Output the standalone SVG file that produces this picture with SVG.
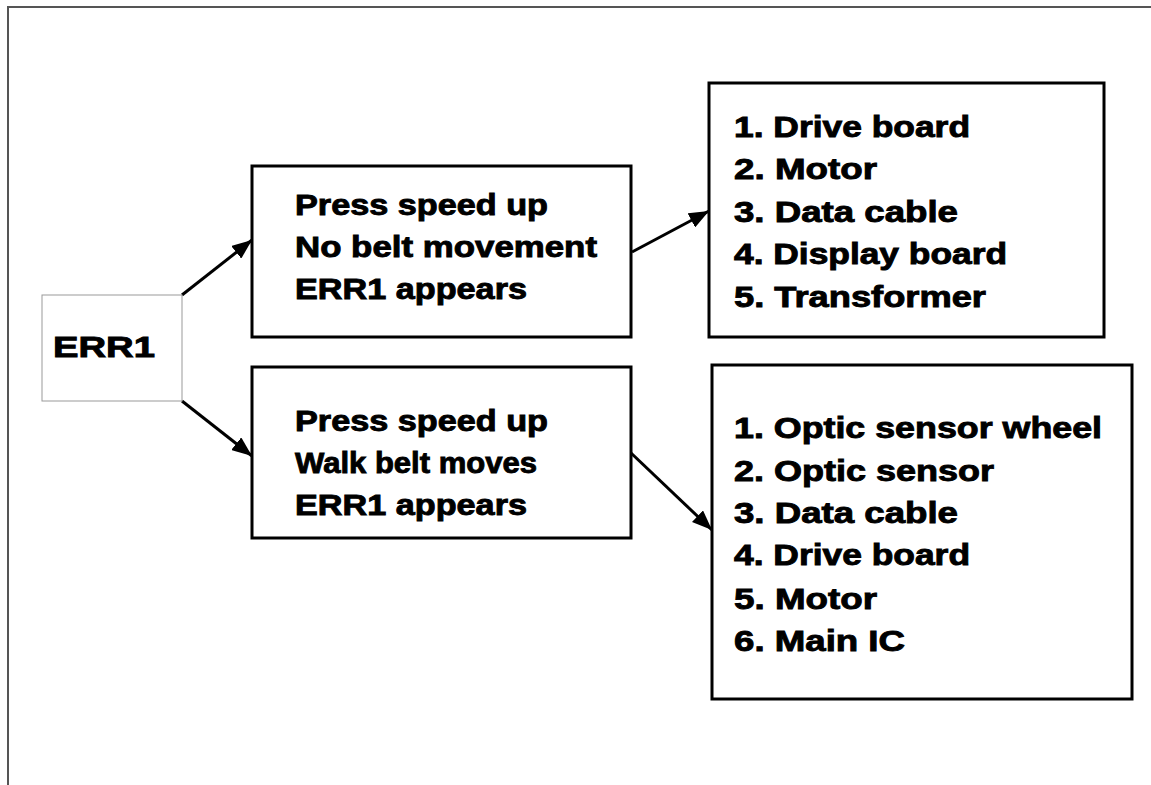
<svg xmlns="http://www.w3.org/2000/svg" width="1151" height="785" viewBox="0 0 1151 785">
  <defs>
    <style>
      .frame { stroke: #555; stroke-width: 2; fill: none; }
      .box { fill: #fff; stroke: #000; stroke-width: 3; }
      .thin { fill: #fff; stroke: #999; stroke-width: 1; }
      .t { font-family: "Liberation Sans", Arial, sans-serif; font-weight: bold; font-size: 29px; fill: #000; stroke: #000; stroke-width: 0.9; }
      .conn { stroke: #000; stroke-width: 3; fill: none; marker-end: url(#arrow); }
    </style>
    <marker id="arrow" viewBox="0 0 20 16" refX="20" refY="8" markerWidth="20" markerHeight="16" markerUnits="userSpaceOnUse" orient="auto">
      <path d="M0,0 L20,8 L0,16 z" fill="#000"/>
    </marker>
  </defs>
  <rect width="1151" height="785" fill="#fff"/>
  <path class="frame" d="M8,785 L8,7 L1151,7"/>

  <g id="connectors">
    <line class="conn" x1="182" y1="295" x2="252" y2="240"/>
    <line class="conn" x1="182" y1="401" x2="252" y2="456"/>
    <line class="conn" x1="632" y1="252" x2="709" y2="211"/>
    <line class="conn" x1="631" y1="453" x2="712" y2="530"/>
  </g>

  <g id="err1">
    <rect class="thin" x="42" y="295" width="140" height="106"/>
    <text class="t" x="53" y="357" textLength="102" lengthAdjust="spacingAndGlyphs">ERR1</text>
  </g>

  <g id="symptom1">
    <rect class="box" x="252" y="166" width="379" height="171"/>
    <text class="t" x="295" y="215" textLength="253" lengthAdjust="spacingAndGlyphs">Press speed up</text>
    <text class="t" x="295" y="257" textLength="302" lengthAdjust="spacingAndGlyphs">No belt movement</text>
    <text class="t" x="295" y="299" textLength="232" lengthAdjust="spacingAndGlyphs">ERR1 appears</text>
  </g>

  <g id="symptom2">
    <rect class="box" x="252" y="367" width="379" height="171"/>
    <text class="t" x="295" y="431" textLength="253" lengthAdjust="spacingAndGlyphs">Press speed up</text>
    <text class="t" x="295" y="473" textLength="242" lengthAdjust="spacingAndGlyphs">Walk belt moves</text>
    <text class="t" x="295" y="515" textLength="232" lengthAdjust="spacingAndGlyphs">ERR1 appears</text>
  </g>

  <g id="causes1">
    <rect class="box" x="709" y="83" width="395" height="254"/>
    <text class="t" x="734" y="137" textLength="236" lengthAdjust="spacingAndGlyphs">1. Drive board</text>
    <text class="t" x="734" y="179" textLength="143" lengthAdjust="spacingAndGlyphs">2. Motor</text>
    <text class="t" x="734" y="222" textLength="224" lengthAdjust="spacingAndGlyphs">3. Data cable</text>
    <text class="t" x="734" y="264" textLength="273" lengthAdjust="spacingAndGlyphs">4. Display board</text>
    <text class="t" x="734" y="307" textLength="252" lengthAdjust="spacingAndGlyphs">5. Transformer</text>
  </g>

  <g id="causes2">
    <rect class="box" x="712" y="365" width="420" height="334"/>
    <text class="t" x="734" y="438" textLength="368" lengthAdjust="spacingAndGlyphs">1. Optic sensor wheel</text>
    <text class="t" x="734" y="481" textLength="260" lengthAdjust="spacingAndGlyphs">2. Optic sensor</text>
    <text class="t" x="734" y="523" textLength="224" lengthAdjust="spacingAndGlyphs">3. Data cable</text>
    <text class="t" x="734" y="565" textLength="236" lengthAdjust="spacingAndGlyphs">4. Drive board</text>
    <text class="t" x="734" y="609" textLength="143" lengthAdjust="spacingAndGlyphs">5. Motor</text>
    <text class="t" x="734" y="651" textLength="171" lengthAdjust="spacingAndGlyphs">6. Main IC</text>
  </g>
</svg>
